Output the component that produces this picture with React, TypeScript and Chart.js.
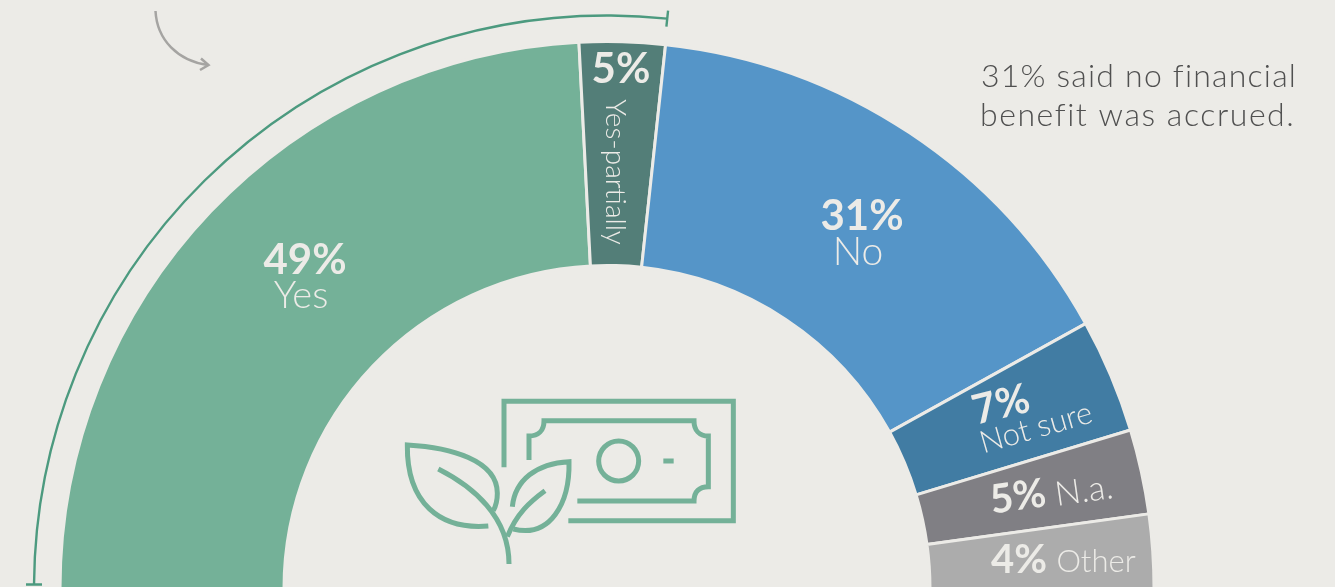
import React, { useEffect, useRef } from "react";
import { Chart, registerables } from "chart.js";

Chart.register(...registerables);

const categories = ["Yes", "Yes-partially", "No", "Not sure", "N.a.", "Other"];
const shares = [48.85, 5.1, 30.8, 6.8, 5.05, 4.4];
const shareLabels = ["49%", "5%", "31%", "7%", "5%", "4%"];
const sliceColors = ["#74b198", "#537e78", "#5595c8", "#417ca3", "#807f84", "#acacac"];
const noteLines = ["31% said no financial", "benefit was accrued."];

const BG = "#ecebe7";
const INK = "#ecebe7";
const WIDTH = 1335;
const VISIBLE_H = 587;
const CANVAS_H = 620;

type Tag = { text: string; x: number; y: number; rot: number; size: number; bold: boolean };

const tags: Tag[] = [
  { text: shareLabels[0], x: 305, y: 260, rot: 0, size: 42, bold: true },
  { text: categories[0], x: 301, y: 296, rot: 0, size: 38, bold: false },
  { text: shareLabels[1], x: 621, y: 69, rot: 0, size: 42, bold: true },
  { text: categories[1], x: 615, y: 172, rot: 90, size: 28, bold: false },
  { text: shareLabels[2], x: 862, y: 216, rot: 0, size: 42, bold: true },
  { text: categories[2], x: 858, y: 252, rot: 0, size: 39, bold: false },
  { text: shareLabels[3], x: 1001, y: 405, rot: -14, size: 41, bold: true },
  { text: categories[3], x: 1036, y: 428, rot: -16, size: 31, bold: false },
  { text: shareLabels[4], x: 1018, y: 497, rot: -8, size: 40, bold: true },
  { text: categories[4], x: 1084, y: 491, rot: -8, size: 34, bold: false },
  { text: shareLabels[5], x: 1019, y: 560, rot: 0, size: 40, bold: true },
  { text: categories[5], x: 1096, y: 562, rot: 0, size: 31, bold: false },
];

function drawIcon(ctx: CanvasRenderingContext2D) {
  ctx.save();
  ctx.translate(390, 390);
  ctx.scale(1 / 3, 1 / 3);
  ctx.strokeStyle = "#74b198";
  ctx.lineWidth = 15;
  ctx.lineCap = "butt";
  ctx.lineJoin = "miter";
  const p = (s: string) => ctx.stroke(new Path2D(s));
  p("M342 232 L342 34 L1030 34 L1030 392 L535 392");
  p("M417 210 L417 138 C445 138 462 122 462 92 L912 92 C912 120 928 138 955 138 L955 290 C928 290 912 305 912 333 L562 333");
  p("M820 213 L851 213");
  ctx.beginPath();
  ctx.arc(686, 213, 60, 0, Math.PI * 2);
  ctx.stroke();
  p("M295 408 C150 420 50 340 52 165 C180 172 322 210 322 310 Q322 340 310 362");
  p("M145 237 C250 290 357 380 357 522");
  p("M367 350 C375 270 440 220 537 215 C540 340 480 445 370 417");
  p("M465 302 C420 335 380 370 352 440");
  ctx.restore();
}

const overlay = {
  id: "overlay",
  afterDraw(chart: any) {
    const ctx: CanvasRenderingContext2D = chart.ctx;
    const arcs = chart.getDatasetMeta(0).data;
    const first = arcs[0];
    const { x: cx, y: cy } = first;
    const r = first.outerRadius + 26;
    const a0 = first.startAngle + 0.007;
    const a1 = arcs[1].endAngle - 0.002;

    ctx.save();
    ctx.strokeStyle = "#4c9a7f";
    ctx.lineWidth = 2.4;
    ctx.beginPath();
    ctx.arc(cx, cy, r, a0, a1);
    ctx.stroke();
    for (const a of [a0, a1]) {
      ctx.beginPath();
      ctx.moveTo(cx + (r - 8) * Math.cos(a), cy + (r - 8) * Math.sin(a));
      ctx.lineTo(cx + (r + 8) * Math.cos(a), cy + (r + 8) * Math.sin(a));
      ctx.stroke();
    }
    ctx.restore();

    ctx.save();
    ctx.strokeStyle = "#a5a4a2";
    ctx.lineWidth = 2.5;
    ctx.stroke(new Path2D("M155.5 11 C157 40 178 61 208 65"));
    ctx.stroke(new Path2D("M201 58.5 L208.5 65 L200 70"));
    ctx.restore();

    drawIcon(ctx);

    ctx.save();
    ctx.textAlign = "center";
    ctx.textBaseline = "middle";
    ctx.fillStyle = INK;
    for (const t of tags) {
      ctx.save();
      ctx.translate(t.x, t.y);
      ctx.rotate((t.rot * Math.PI) / 180);
      ctx.font = `${t.bold ? 700 : 300} ${t.size}px Lato`;
      ctx.fillText(t.text, 0, 0);
      ctx.restore();
    }
    ctx.restore();

    ctx.save();
    ctx.textAlign = "left";
    ctx.textBaseline = "alphabetic";
    ctx.fillStyle = "#505050";
    ctx.font = "300 32px Lato";
    (ctx as any).letterSpacing = "1.2px";
    ctx.fillText(noteLines[0], 981, 87);
    (ctx as any).letterSpacing = "1.55px";
    ctx.fillText(noteLines[1], 980, 126);
    ctx.restore();
  },
};

export default function App() {
  const ref = useRef<HTMLCanvasElement>(null);
  useEffect(() => {
    document.body.style.margin = "0";
    document.body.style.background = BG;
    const chart = new Chart(ref.current!, {
      type: "doughnut",
      data: {
        labels: categories,
        datasets: [
          {
            data: shares,
            backgroundColor: sliceColors,
            borderColor: BG,
            borderWidth: 3,
          },
        ],
      },
      options: {
        responsive: false,
        animation: false,
        rotation: -90,
        circumference: 180,
        cutout: "59.05%",
        layout: { padding: { left: 57, right: WIDTH - 57 - 1100, top: 40, bottom: CANVAS_H - 590 } },
        plugins: { legend: { display: false }, tooltip: { enabled: false } },
      },
      plugins: [overlay],
    } as any);
    return () => chart.destroy();
  }, []);
  return (
    <div style={{ width: WIDTH, height: VISIBLE_H, overflow: "hidden", background: BG }}>
      <canvas ref={ref} width={WIDTH} height={CANVAS_H} style={{ display: "block" }} />
    </div>
  );
}
